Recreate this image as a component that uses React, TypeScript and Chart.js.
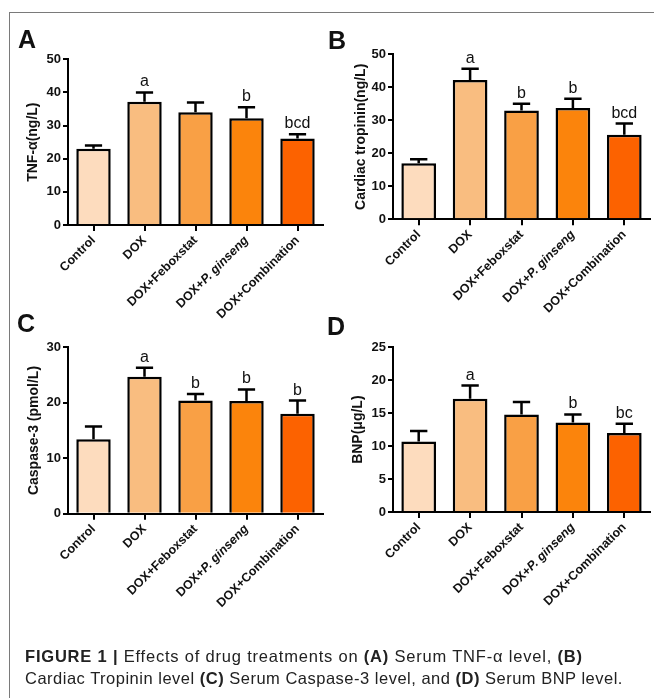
import React, { useEffect, useRef } from 'react';
import { Chart, registerables } from 'chart.js';

Chart.register(...registerables);

// ---------- data ----------
const groups = ['Control', 'DOX', 'DOX+Feboxstat', 'DOX+P. ginseng', 'DOX+Combination'];
const italicTerms = ['P. ginseng'];
const barColors = ['#FDDCBE', '#F9BD80', '#F9A045', '#FB840C', '#FC6200'];

const tnfMean = [23.0, 37.2, 34.0, 32.2, 26.1];
const tnfSem = [1.0, 2.8, 3.0, 3.3, 1.3];
const tnfLetters = ['', 'a', '', 'b', 'bcd'];

const tropMean = [17.0, 42.2, 33.0, 33.7, 25.6];
const tropSem = [1.2, 3.4, 2.0, 2.8, 3.4];
const tropLetters = ['', 'a', 'b', 'b', 'bcd'];

const caspMean = [13.4, 24.7, 20.4, 20.3, 18.0];
const caspSem = [2.3, 1.6, 1.2, 2.1, 2.4];
const caspLetters = ['', 'a', 'b', 'b', 'b'];

const bnpMean = [10.7, 17.2, 14.8, 13.6, 12.0];
const bnpSem = [1.6, 2.0, 1.9, 1.2, 1.4];
const bnpLetters = ['', 'a', '', 'b', 'bc'];

const yAxisMax = [50, 50, 30, 25];
const yAxisStep = [10, 10, 10, 5];
const yTitles = ['TNF-α(ng/L)', 'Cardiac tropinin(ng/L)', 'Caspase-3 (pmol/L)', 'BNP(μg/L)'];
const panelLetters = ['A', 'B', 'C', 'D'];

// ---------- layout ----------
const FONT = 'Arial, "Liberation Sans", Helvetica, sans-serif';
const XLABEL_SIZE = 12.5;

type Panel = {
  mean: number[];
  sem: number[];
  letters: string[];
  box: { left: number; top: number; width: number; height: number };
  area: { left: number; top: number; right: number; bottom: number };
  titlePad: number;
};

const panels: Panel[] = [
  {
    mean: tnfMean, sem: tnfSem, letters: tnfLetters,
    box: { left: 0, top: 14, width: 327, height: 310 },
    area: { left: 68, top: 59.3, right: 323, bottom: 225 },
    titlePad: 25,
  },
  {
    mean: tropMean, sem: tropSem, letters: tropLetters,
    box: { left: 327, top: 14, width: 327, height: 310 },
    area: { left: 393, top: 54.3, right: 650, bottom: 219.3 },
    titlePad: 26,
  },
  {
    mean: caspMean, sem: caspSem, letters: caspLetters,
    box: { left: 0, top: 300, width: 327, height: 340 },
    area: { left: 68, top: 347.3, right: 323, bottom: 513.7 },
    titlePad: 26,
  },
  {
    mean: bnpMean, sem: bnpSem, letters: bnpLetters,
    box: { left: 327, top: 300, width: 327, height: 340 },
    area: { left: 393, top: 347.3, right: 650, bottom: 512 },
    titlePad: 23,
  },
];

const letterPos = [
  { left: 18, top: 27 },
  { left: 328, top: 28 },
  { left: 17, top: 311 },
  { left: 327, top: 314 },
];

function splitLabel(label: string) {
  for (const term of italicTerms) {
    const k = label.indexOf(term);
    if (k >= 0) {
      const parts: { t: string; it: boolean }[] = [];
      if (k > 0) parts.push({ t: label.slice(0, k), it: false });
      parts.push({ t: term, it: true });
      if (k + term.length < label.length) parts.push({ t: label.slice(k + term.length), it: false });
      return parts;
    }
  }
  return [{ t: label, it: false }];
}

const xLabelPlugin = {
  id: 'mixedXLabels',
  afterDraw(chart: any) {
    const { ctx } = chart;
    const xs = chart.scales.x;
    const labels: string[] = chart.data.labels;
    const lh = XLABEL_SIZE * 1.2;
    const rot = -Math.PI / 4;
    ctx.save();
    ctx.fillStyle = '#111';
    ctx.textBaseline = 'middle';
    ctx.textAlign = 'left';
    labels.forEach((lab, i) => {
      const parts = splitLabel(lab);
      const fonts = parts.map((p) => `${p.it ? 'italic ' : ''}bold ${XLABEL_SIZE}px ${FONT}`);
      let total = 0;
      const widths = parts.map((p, j) => {
        ctx.font = fonts[j];
        const w = ctx.measureText(p.t).width;
        total += w;
        return w;
      });
      const x = xs.getPixelForTick(i) + (lh / 2) * Math.sin(rot);
      const y = xs.top + 8;
      ctx.save();
      ctx.translate(x, y);
      ctx.rotate(rot);
      let cx = -total;
      parts.forEach((p, j) => {
        ctx.font = fonts[j];
        ctx.fillText(p.t, cx, lh / 2);
        cx += widths[j];
      });
      ctx.restore();
    });
    ctx.restore();
  },
};

const errorBarPlugin = {
  id: 'errorBars',
  afterDatasetsDraw(chart: any, _args: any, opts: any) {
    const { ctx } = chart;
    const meta = chart.getDatasetMeta(0);
    const yScale = chart.scales.y;
    const mean: number[] = opts.mean;
    const sem: number[] = opts.sem;
    const letters: string[] = opts.letters;
    ctx.save();
    meta.data.forEach((bar: any, i: number) => {
      const top = yScale.getPixelForValue(mean[i] + sem[i]);
      const yBar = yScale.getPixelForValue(mean[i]);
      const half = bar.width * 0.25;
      ctx.strokeStyle = '#000';
      ctx.lineWidth = 2.5;
      ctx.beginPath();
      ctx.moveTo(bar.x, yBar);
      ctx.lineTo(bar.x, top);
      ctx.moveTo(bar.x - half, top);
      ctx.lineTo(bar.x + half, top);
      ctx.stroke();
      if (letters[i]) {
        ctx.fillStyle = '#111';
        ctx.font = `16px ${FONT}`;
        ctx.textAlign = 'center';
        ctx.textBaseline = 'alphabetic';
        ctx.fillText(letters[i], bar.x, top - 6);
      }
    });
    ctx.restore();
  },
};

function BarPanel({ idx }: { idx: number }) {
  const ref = useRef<HTMLCanvasElement>(null);
  const p = panels[idx];
  useEffect(() => {
    if (!ref.current) return;
    const yWidth = p.area.left - p.box.left;
    const xHeight = p.box.top + p.box.height - p.area.bottom;
    const chart = new Chart(ref.current, {
      type: 'bar',
      data: {
        labels: groups,
        datasets: [
          {
            data: p.mean,
            backgroundColor: barColors,
            borderColor: '#000',
            borderWidth: 2.5,
            categoryPercentage: 1,
            barPercentage: 0.675,
          },
        ],
      },
      options: {
        responsive: false,
        animation: false,
        devicePixelRatio: 1,
        layout: {
          padding: {
            top: p.area.top - p.box.top,
            right: p.box.left + p.box.width - p.area.right,
            left: 0,
            bottom: 0,
          },
        },
        plugins: {
          legend: { display: false },
          tooltip: { enabled: false },
          errorBars: { mean: p.mean, sem: p.sem, letters: p.letters },
        } as any,
        scales: {
          x: {
            afterFit: (s: any) => { s.height = xHeight; },
            grid: { drawOnChartArea: false, offset: false, color: '#000', lineWidth: 2, tickLength: 6 },
            border: { display: true, color: '#000', width: 2 },
            ticks: {
              display: false,
              maxRotation: 45,
              minRotation: 45,
              autoSkip: false,
            },
          },
          y: {
            min: 0,
            max: yAxisMax[idx],
            afterFit: (s: any) => { s.width = yWidth; },
            grid: { drawOnChartArea: false, color: '#000', lineWidth: 2, tickLength: 5 },
            border: { display: true, color: '#000', width: 2 },
            ticks: {
              stepSize: yAxisStep[idx],
              color: '#111',
              font: { family: FONT, size: 13, weight: 'bold' },
              padding: 2,
            },
            title: {
              display: true,
              text: yTitles[idx],
              color: '#111',
              font: { family: FONT, size: 14, weight: 'bold' },
              padding: { top: p.titlePad, bottom: 0 },
            },
          },
        },
      } as any,
      plugins: [errorBarPlugin, xLabelPlugin],
    });
    return () => chart.destroy();
  }, [idx]);
  return (
    <canvas
      ref={ref}
      width={p.box.width}
      height={p.box.height}
      style={{
        position: 'absolute',
        left: p.box.left,
        top: p.box.top,
        width: p.box.width,
        height: p.box.height,
      }}
    />
  );
}

export default function App() {
  return (
    <div
      style={{
        position: 'absolute',
        left: 0,
        top: 0,
        width: 654,
        height: 698,
        overflow: 'hidden',
        background: '#fff',
        fontFamily: FONT,
        color: '#111',
      }}
    >
      <div
        style={{
          position: 'absolute',
          left: 9,
          top: 12,
          width: 700,
          height: 720,
          borderTop: '1px solid #7a7a7a',
          borderLeft: '1px solid #7a7a7a',
        }}
      />
      {panels.map((_, i) => (
        <BarPanel key={i} idx={i} />
      ))}
      {panelLetters.map((L, i) => (
        <div
          key={L}
          style={{
            position: 'absolute',
            left: letterPos[i].left,
            top: letterPos[i].top,
            fontSize: 25,
            lineHeight: '25px',
            fontWeight: 'bold',
            color: '#111',
          }}
        >
          {L}
        </div>
      ))}
      <div
        style={{
          position: 'absolute',
          left: 25,
          top: 645,
          width: 629,
          fontSize: 16.5,
          lineHeight: '22px',
          color: '#222',
          whiteSpace: 'nowrap',
        }}
      >
        <div style={{ letterSpacing: '0.8px' }}>
          <b>FIGURE 1 |</b> Effects of drug treatments on <b>(A)</b> Serum TNF-α level, <b>(B)</b>
        </div>
        <div style={{ letterSpacing: '0.5px' }}>
          Cardiac Tropinin level <b>(C)</b> Serum Caspase-3 level, and <b>(D)</b> Serum BNP level.
        </div>
      </div>
    </div>
  );
}
